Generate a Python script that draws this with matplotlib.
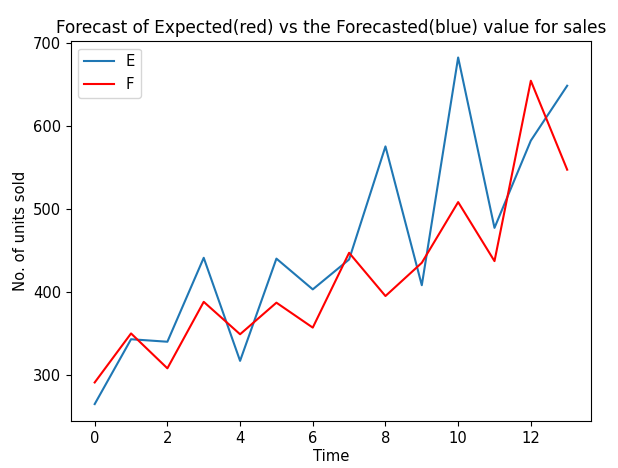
import matplotlib
matplotlib.use("Agg")
import matplotlib.pyplot as plt

time = list(range(14))
expected = [265, 343, 340, 441, 317, 440, 403, 439, 575, 408, 682, 477, 582, 648]
forecast = [291, 350, 308, 388, 349, 387, 357, 447, 395, 435, 508, 437, 654, 547]

plt.rcParams["font.size"] = 10.6
fig = plt.figure(figsize=(6.18, 4.68), dpi=100)
ax = fig.add_axes([0.115, 0.1, 0.841, 0.812])
ax.plot(time, expected, color="#1f77b4", label="E")
ax.plot(time, forecast, color="red", label="F")
ax.set_ylim(244.4, 701.6)
ax.set_yticks([300, 400, 500, 600, 700])
ax.set_xticks([0, 2, 4, 6, 8, 10, 12])
ax.set_title("Forecast of Expected(red) vs the Forecasted(blue) value for sales", fontsize=12.2)
ax.set_xlabel("Time", labelpad=2)
ax.set_ylabel("No. of units sold")
ax.legend(loc="upper left")
fig.savefig("out.png", dpi=100)
